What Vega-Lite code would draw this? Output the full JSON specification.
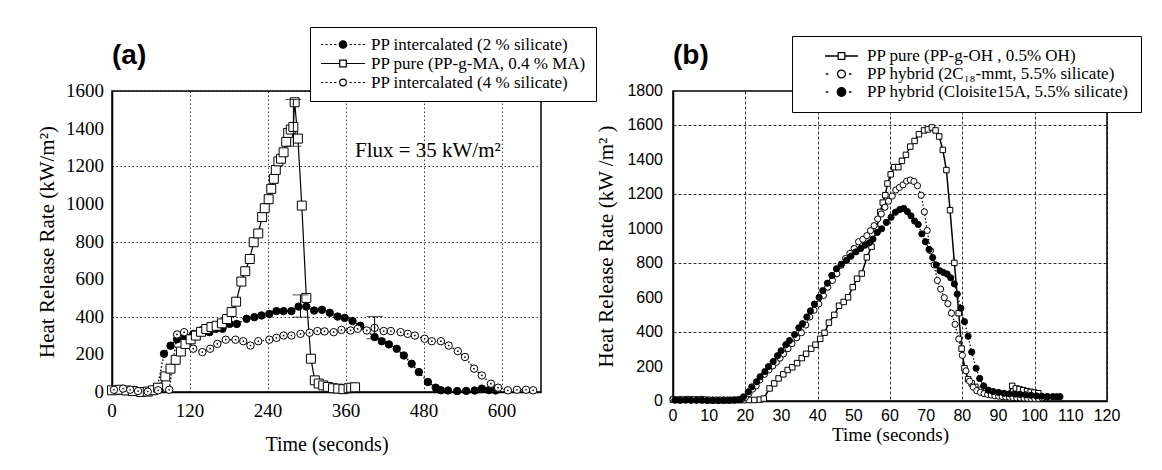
{
  "$schema": "https://vega.github.io/schema/vega-lite/v6.json",
  "background": "white",
  "padding": {"left": 35, "top": 25, "right": 5, "bottom": 5},
  "spacing": 132,
  "bounds": "flush",
  "config": {
    "font": "Liberation Serif",
    "view": {"stroke": "black", "strokeWidth": 1.5},
    "axis": {
      "domainColor": "black", "domainWidth": 1.5,
      "ticks": false, "labels": false,
      "gridColor": "black", "gridWidth": 0.8, "gridOpacity": 1,
      "titleColor": "black", "titleFont": "Liberation Serif", "titleFontWeight": "normal"
    },
    "legend": {
      "orient": "none", "title": null, "direction": "vertical",
      "labelFont": "Liberation Serif", "labelFontSize": 17, "labelColor": "black", "labelLimit": 500,
      "strokeColor": "black", "fillColor": "white", "rowPadding": 1
    },
    "title": {"font": "Liberation Sans", "fontWeight": "bold", "fontSize": 28, "anchor": "start", "frame": "group", "color": "black"}
  },
  "datasets": {
    "a": [
      {"s":"A1","t":0,"v":8},{"s":"A1","t":10,"v":6},{"s":"A1","t":20,"v":5},{"s":"A1","t":30,"v":4},{"s":"A1","t":40,"v":3},{"s":"A1","t":50,"v":3},{"s":"A1","t":60,"v":5},{"s":"A1","t":70,"v":26},{"s":"A1","t":80,"v":203},{"s":"A1","t":90,"v":246},{"s":"A1","t":100,"v":280},{"s":"A1","t":112,"v":295},{"s":"A1","t":125,"v":309},{"s":"A1","t":137,"v":327},{"s":"A1","t":150,"v":318},{"s":"A1","t":160,"v":336},{"s":"A1","t":170,"v":336},{"s":"A1","t":181,"v":362},{"s":"A1","t":192,"v":362},{"s":"A1","t":207,"v":389},{"s":"A1","t":219,"v":398},{"s":"A1","t":230,"v":407},{"s":"A1","t":242,"v":415},{"s":"A1","t":253,"v":430},{"s":"A1","t":264,"v":430},{"s":"A1","t":276,"v":430},{"s":"A1","t":287,"v":454},{"s":"A1","t":299,"v":454},{"s":"A1","t":311,"v":433},{"s":"A1","t":323,"v":437},{"s":"A1","t":335,"v":421},{"s":"A1","t":347,"v":401},{"s":"A1","t":358,"v":394},{"s":"A1","t":370,"v":377},{"s":"A1","t":382,"v":352},{"s":"A1","t":404,"v":292},{"s":"A1","t":415,"v":270},{"s":"A1","t":426,"v":253},{"s":"A1","t":438,"v":230},{"s":"A1","t":449,"v":194},{"s":"A1","t":461,"v":150},{"s":"A1","t":472,"v":106},{"s":"A1","t":486,"v":53},{"s":"A1","t":498,"v":23},{"s":"A1","t":506,"v":9},{"s":"A1","t":517,"v":8},{"s":"A1","t":531,"v":5},{"s":"A1","t":545,"v":6},{"s":"A1","t":558,"v":8},{"s":"A1","t":569,"v":18},{"s":"A1","t":580,"v":10},{"s":"A1","t":590,"v":8},
      {"s":"A2","t":0,"v":9},{"s":"A2","t":12,"v":12},{"s":"A2","t":22,"v":8},{"s":"A2","t":32,"v":5},{"s":"A2","t":45,"v":0},{"s":"A2","t":55,"v":2},{"s":"A2","t":63,"v":9},{"s":"A2","t":71,"v":23},{"s":"A2","t":82,"v":83},{"s":"A2","t":90,"v":124},{"s":"A2","t":98,"v":171},{"s":"A2","t":106,"v":215},{"s":"A2","t":113,"v":255},{"s":"A2","t":121,"v":280},{"s":"A2","t":129,"v":300},{"s":"A2","t":137,"v":320},{"s":"A2","t":145,"v":335},{"s":"A2","t":153,"v":345},{"s":"A2","t":161,"v":352},{"s":"A2","t":169,"v":365},{"s":"A2","t":177,"v":388},{"s":"A2","t":184,"v":425},{"s":"A2","t":191,"v":480},{"s":"A2","t":199,"v":587},{"s":"A2","t":205,"v":642},{"s":"A2","t":212,"v":707},{"s":"A2","t":218,"v":796},{"s":"A2","t":225,"v":843},{"s":"A2","t":231,"v":930},{"s":"A2","t":235,"v":977},{"s":"A2","t":241,"v":1025},{"s":"A2","t":245,"v":1080},{"s":"A2","t":249,"v":1133},{"s":"A2","t":252,"v":1180},{"s":"A2","t":256,"v":1226},{"s":"A2","t":260,"v":1240},{"s":"A2","t":264,"v":1274},{"s":"A2","t":268,"v":1330},{"s":"A2","t":271,"v":1377},{"s":"A2","t":275,"v":1395},{"s":"A2","t":279,"v":1409},{"s":"A2","t":281,"v":1540},{"s":"A2","t":286,"v":1347},{"s":"A2","t":292,"v":991},{"s":"A2","t":299,"v":500},{"s":"A2","t":306,"v":177},{"s":"A2","t":312,"v":62},{"s":"A2","t":318,"v":45},{"s":"A2","t":325,"v":35},{"s":"A2","t":332,"v":27},{"s":"A2","t":340,"v":20},{"s":"A2","t":348,"v":18},{"s":"A2","t":356,"v":15},{"s":"A2","t":364,"v":20},{"s":"A2","t":368,"v":23},{"s":"A2","t":374,"v":25},
      {"s":"A3","t":3,"v":12},{"s":"A3","t":17,"v":18},{"s":"A3","t":28,"v":12},{"s":"A3","t":40,"v":5},{"s":"A3","t":55,"v":2},{"s":"A3","t":71,"v":9},{"s":"A3","t":88,"v":12},{"s":"A3","t":100,"v":306},{"s":"A3","t":111,"v":318},{"s":"A3","t":125,"v":230},{"s":"A3","t":139,"v":212},{"s":"A3","t":151,"v":230},{"s":"A3","t":162,"v":256},{"s":"A3","t":175,"v":278},{"s":"A3","t":190,"v":278},{"s":"A3","t":202,"v":270},{"s":"A3","t":213,"v":247},{"s":"A3","t":225,"v":270},{"s":"A3","t":242,"v":278},{"s":"A3","t":253,"v":288},{"s":"A3","t":264,"v":300},{"s":"A3","t":276,"v":300},{"s":"A3","t":290,"v":309},{"s":"A3","t":304,"v":315},{"s":"A3","t":316,"v":324},{"s":"A3","t":327,"v":322},{"s":"A3","t":341,"v":318},{"s":"A3","t":353,"v":330},{"s":"A3","t":367,"v":327},{"s":"A3","t":378,"v":336},{"s":"A3","t":392,"v":327},{"s":"A3","t":404,"v":341},{"s":"A3","t":418,"v":324},{"s":"A3","t":429,"v":324},{"s":"A3","t":444,"v":318},{"s":"A3","t":455,"v":309},{"s":"A3","t":466,"v":300},{"s":"A3","t":481,"v":283},{"s":"A3","t":492,"v":270},{"s":"A3","t":506,"v":270},{"s":"A3","t":518,"v":247},{"s":"A3","t":532,"v":217},{"s":"A3","t":543,"v":186},{"s":"A3","t":557,"v":124},{"s":"A3","t":569,"v":88},{"s":"A3","t":583,"v":44},{"s":"A3","t":594,"v":23},{"s":"A3","t":609,"v":9},{"s":"A3","t":623,"v":12},{"s":"A3","t":637,"v":12},{"s":"A3","t":648,"v":9}
    ],
    "ae": [
      {"t":279,"lo":1306,"hi":1555},
      {"t":290,"lo":398,"hi":516},
      {"t":404,"lo":283,"hi":401}
    ],
    "note": [{"t":486,"v":1280,"label":"Flux = 35 kW/m²"}],
    "ayl": [{"v":0},{"v":200},{"v":400},{"v":600},{"v":800},{"v":1000},{"v":1200},{"v":1400},{"v":1600}],
    "axl": [{"t":0},{"t":120},{"t":240},{"t":360},{"t":480},{"t":600}],
    "byl": [{"v":0},{"v":200},{"v":400},{"v":600},{"v":800},{"v":1000},{"v":1200},{"v":1400},{"v":1600},{"v":1800}],
    "bxl": [{"t":0},{"t":10},{"t":20},{"t":30},{"t":40},{"t":50},{"t":60},{"t":70},{"t":80},{"t":90},{"t":100},{"t":110},{"t":120}],
    "b": [
      {"s":"B1","t":0,"v":8},{"s":"B1","t":1.5,"v":6},{"s":"B1","t":3,"v":7},{"s":"B1","t":4.5,"v":8},{"s":"B1","t":6,"v":7},{"s":"B1","t":7.5,"v":9},{"s":"B1","t":9,"v":6},{"s":"B1","t":10.5,"v":5},{"s":"B1","t":12,"v":5},{"s":"B1","t":13.5,"v":5},{"s":"B1","t":15,"v":5},{"s":"B1","t":16.5,"v":5},{"s":"B1","t":18,"v":5},{"s":"B1","t":19.5,"v":5},{"s":"B1","t":21,"v":6},{"s":"B1","t":22.5,"v":6},{"s":"B1","t":24,"v":8},
      {"s":"B1","t":25.1,"v":14},{"s":"B1","t":26.7,"v":73},{"s":"B1","t":28,"v":102},{"s":"B1","t":29.2,"v":131},{"s":"B1","t":30.5,"v":155},{"s":"B1","t":31.7,"v":180},{"s":"B1","t":33,"v":196},{"s":"B1","t":34.3,"v":220},{"s":"B1","t":35.6,"v":249},{"s":"B1","t":36.8,"v":274},{"s":"B1","t":38.2,"v":304},{"s":"B1","t":39.4,"v":327},{"s":"B1","t":40.7,"v":361},{"s":"B1","t":41.9,"v":396},{"s":"B1","t":43.1,"v":455},{"s":"B1","t":44.6,"v":500},{"s":"B1","t":45.9,"v":553},{"s":"B1","t":47.2,"v":575},{"s":"B1","t":48.4,"v":602},{"s":"B1","t":49.7,"v":661},{"s":"B1","t":50.9,"v":710},{"s":"B1","t":52.2,"v":740},{"s":"B1","t":53.6,"v":834},{"s":"B1","t":54.9,"v":896},{"s":"B1","t":56.3,"v":1000},{"s":"B1","t":57.3,"v":1098},{"s":"B1","t":58,"v":1152},{"s":"B1","t":58.7,"v":1195},{"s":"B1","t":59.3,"v":1263},{"s":"B1","t":60.2,"v":1316},{"s":"B1","t":61.2,"v":1358},{"s":"B1","t":62.3,"v":1358},{"s":"B1","t":63.3,"v":1394},{"s":"B1","t":64.4,"v":1429},{"s":"B1","t":65.6,"v":1477},{"s":"B1","t":66.8,"v":1510},{"s":"B1","t":68,"v":1549},{"s":"B1","t":69.4,"v":1571},{"s":"B1","t":70.5,"v":1577},{"s":"B1","t":71.6,"v":1588},{"s":"B1","t":72.6,"v":1571},{"s":"B1","t":73.6,"v":1536},{"s":"B1","t":74.6,"v":1458},{"s":"B1","t":75.6,"v":1341},{"s":"B1","t":76.6,"v":1108},{"s":"B1","t":77.8,"v":802},{"s":"B1","t":79,"v":510},{"s":"B1","t":79.8,"v":304},{"s":"B1","t":80.6,"v":190},{"s":"B1","t":81.6,"v":127},{"s":"B1","t":82.6,"v":102},{"s":"B1","t":83.6,"v":82},{"s":"B1","t":85,"v":65},{"s":"B1","t":86.5,"v":55},{"s":"B1","t":88,"v":45},{"s":"B1","t":89.5,"v":40},{"s":"B1","t":91,"v":35},{"s":"B1","t":92.5,"v":33},{"s":"B1","t":93.8,"v":88},{"s":"B1","t":94.8,"v":73},{"s":"B1","t":95.8,"v":69},{"s":"B1","t":96.8,"v":63},{"s":"B1","t":97.9,"v":57},{"s":"B1","t":98.9,"v":53},{"s":"B1","t":99.9,"v":49},{"s":"B1","t":101,"v":45},
      {"s":"B2","t":0,"v":9},{"s":"B2","t":1,"v":8},{"s":"B2","t":2,"v":9},{"s":"B2","t":3,"v":8},{"s":"B2","t":4,"v":10},{"s":"B2","t":5,"v":8},{"s":"B2","t":6,"v":9},{"s":"B2","t":7,"v":8},{"s":"B2","t":8,"v":10},{"s":"B2","t":9,"v":7},{"s":"B2","t":10,"v":6},{"s":"B2","t":11,"v":6},{"s":"B2","t":12,"v":6},{"s":"B2","t":13,"v":6},{"s":"B2","t":14,"v":6},{"s":"B2","t":15,"v":6},{"s":"B2","t":16,"v":6},{"s":"B2","t":17,"v":7},{"s":"B2","t":18,"v":8},{"s":"B2","t":19,"v":10},
      {"s":"B2","t":20,"v":20},{"s":"B2","t":21,"v":43},{"s":"B2","t":22,"v":69},{"s":"B2","t":23,"v":88},{"s":"B2","t":24,"v":122},{"s":"B2","t":25.3,"v":155},{"s":"B2","t":26.5,"v":180},{"s":"B2","t":27.6,"v":204},{"s":"B2","t":28.6,"v":225},{"s":"B2","t":29.6,"v":249},{"s":"B2","t":30.6,"v":274},{"s":"B2","t":31.8,"v":304},{"s":"B2","t":32.9,"v":333},{"s":"B2","t":34.2,"v":367},{"s":"B2","t":35.5,"v":396},{"s":"B2","t":36.7,"v":441},{"s":"B2","t":37.8,"v":488},{"s":"B2","t":39,"v":527},{"s":"B2","t":40.3,"v":563},{"s":"B2","t":41.6,"v":612},{"s":"B2","t":42.8,"v":661},{"s":"B2","t":44.1,"v":700},{"s":"B2","t":45.3,"v":739},{"s":"B2","t":46.5,"v":788},{"s":"B2","t":47.7,"v":827},{"s":"B2","t":48.9,"v":857},{"s":"B2","t":50.1,"v":886},{"s":"B2","t":51.3,"v":925},{"s":"B2","t":52.5,"v":939},{"s":"B2","t":53.6,"v":960},{"s":"B2","t":54.6,"v":989},{"s":"B2","t":55.6,"v":1018},{"s":"B2","t":56.6,"v":1057},{"s":"B2","t":57.6,"v":1086},{"s":"B2","t":58.6,"v":1125},{"s":"B2","t":59.6,"v":1160},{"s":"B2","t":60.6,"v":1190},{"s":"B2","t":61.6,"v":1225},{"s":"B2","t":62.6,"v":1240},{"s":"B2","t":63.6,"v":1255},{"s":"B2","t":64.6,"v":1277},{"s":"B2","t":65.6,"v":1283},{"s":"B2","t":66.6,"v":1275},{"s":"B2","t":67.6,"v":1250},{"s":"B2","t":68.6,"v":1195},{"s":"B2","t":69.5,"v":1098},{"s":"B2","t":70.3,"v":990},{"s":"B2","t":71.2,"v":873},{"s":"B2","t":72.2,"v":790},{"s":"B2","t":73.1,"v":700},{"s":"B2","t":74,"v":650},{"s":"B2","t":75,"v":600},{"s":"B2","t":76,"v":565},{"s":"B2","t":77,"v":510},{"s":"B2","t":78,"v":445},{"s":"B2","t":79,"v":360},{"s":"B2","t":80,"v":265},{"s":"B2","t":81,"v":175},{"s":"B2","t":82,"v":115},{"s":"B2","t":83,"v":80},{"s":"B2","t":84,"v":60},{"s":"B2","t":85,"v":50},{"s":"B2","t":86,"v":43},{"s":"B2","t":87,"v":38},{"s":"B2","t":88,"v":34},{"s":"B2","t":89,"v":30},{"s":"B2","t":90,"v":28},{"s":"B2","t":91,"v":26},{"s":"B2","t":92,"v":24},{"s":"B2","t":93,"v":22},{"s":"B2","t":94,"v":20},{"s":"B2","t":95,"v":19},{"s":"B2","t":96,"v":18},{"s":"B2","t":97,"v":17},{"s":"B2","t":98,"v":16},{"s":"B2","t":99,"v":15},{"s":"B2","t":100,"v":15},{"s":"B2","t":101,"v":15},{"s":"B2","t":102,"v":18},{"s":"B2","t":103.5,"v":24},
      {"s":"B3","t":0.5,"v":5},{"s":"B3","t":2,"v":4},{"s":"B3","t":3.5,"v":5},{"s":"B3","t":5,"v":4},{"s":"B3","t":6.5,"v":4},{"s":"B3","t":8,"v":4},{"s":"B3","t":9.5,"v":3},{"s":"B3","t":11,"v":3},{"s":"B3","t":12.5,"v":3},{"s":"B3","t":14,"v":3},{"s":"B3","t":15.5,"v":4},{"s":"B3","t":17,"v":5},{"s":"B3","t":18.5,"v":8},
      {"s":"B3","t":19.5,"v":24},{"s":"B3","t":20.8,"v":53},{"s":"B3","t":21.8,"v":82},{"s":"B3","t":23.1,"v":112},{"s":"B3","t":24.1,"v":141},{"s":"B3","t":25.4,"v":171},{"s":"B3","t":26.4,"v":200},{"s":"B3","t":27.7,"v":229},{"s":"B3","t":28.9,"v":263},{"s":"B3","t":29.9,"v":292},{"s":"B3","t":31.2,"v":327},{"s":"B3","t":32.2,"v":351},{"s":"B3","t":33.6,"v":386},{"s":"B3","t":34.8,"v":425},{"s":"B3","t":35.8,"v":449},{"s":"B3","t":37,"v":488},{"s":"B3","t":38,"v":523},{"s":"B3","t":39.1,"v":563},{"s":"B3","t":40.4,"v":602},{"s":"B3","t":41.4,"v":641},{"s":"B3","t":42.7,"v":684},{"s":"B3","t":43.9,"v":729},{"s":"B3","t":45.2,"v":768},{"s":"B3","t":46.5,"v":794},{"s":"B3","t":48,"v":817},{"s":"B3","t":49.2,"v":841},{"s":"B3","t":50.6,"v":866},{"s":"B3","t":51.9,"v":886},{"s":"B3","t":53.1,"v":905},{"s":"B3","t":54.3,"v":919},{"s":"B3","t":55.3,"v":940},{"s":"B3","t":56.5,"v":979},{"s":"B3","t":57.7,"v":1000},{"s":"B3","t":59,"v":1037},{"s":"B3","t":60.3,"v":1067},{"s":"B3","t":61.5,"v":1096},{"s":"B3","t":62.7,"v":1112},{"s":"B3","t":63.8,"v":1118},{"s":"B3","t":64.8,"v":1100},{"s":"B3","t":65.8,"v":1075},{"s":"B3","t":66.8,"v":1045},{"s":"B3","t":67.8,"v":1025},{"s":"B3","t":68.8,"v":970},{"s":"B3","t":69.8,"v":925},{"s":"B3","t":70.8,"v":880},{"s":"B3","t":71.8,"v":833},{"s":"B3","t":72.8,"v":790},{"s":"B3","t":73.8,"v":756},{"s":"B3","t":74.8,"v":746},{"s":"B3","t":75.8,"v":737},{"s":"B3","t":76.8,"v":715},{"s":"B3","t":77.8,"v":680},{"s":"B3","t":78.6,"v":621},{"s":"B3","t":79.6,"v":539},{"s":"B3","t":80.6,"v":461},{"s":"B3","t":81.6,"v":376},{"s":"B3","t":82.6,"v":284},{"s":"B3","t":83.8,"v":190},{"s":"B3","t":84.8,"v":131},{"s":"B3","t":85.9,"v":88},{"s":"B3","t":87.2,"v":63},{"s":"B3","t":88.5,"v":55},{"s":"B3","t":90,"v":50},{"s":"B3","t":91.5,"v":45},{"s":"B3","t":93,"v":42},{"s":"B3","t":94.5,"v":40},{"s":"B3","t":96,"v":38},{"s":"B3","t":97.5,"v":36},{"s":"B3","t":99,"v":33},{"s":"B3","t":100.5,"v":30},{"s":"B3","t":102,"v":28},{"s":"B3","t":103.5,"v":26},{"s":"B3","t":105,"v":25},{"s":"B3","t":106,"v":25},{"s":"B3","t":107,"v":25}
    ]
  },
  "resolve": {
    "scale": {"x": "independent", "y": "independent", "shape": "independent", "fill": "independent", "stroke": "independent"},
    "legend": {"shape": "independent", "fill": "independent", "stroke": "independent"}
  },
  "hconcat": [
    {
      "width": 429, "height": 301,
      "title": {"text": "(a)", "offset": -43},
      "layer": [
        {
          "data": {"name": "a"},
          "mark": {"type": "line", "color": "black"},
          "encoding": {
            "x": {"field": "t", "type": "quantitative", "scale": {"domain": [0, 660], "nice": false, "zero": false},
              "axis": {"values": [0,60,120,180,240,300,360,420,480,540,600,660], "title": "Time (seconds)", "gridDash": [1.5, 2.5], "titleFontSize": 20, "titlePadding": 42}},
            "y": {"field": "v", "type": "quantitative", "scale": {"domain": [0, 1600], "nice": false},
              "axis": {"values": [0,200,400,600,800,1000,1200,1400,1600], "title": "Heat Release Rate (kW/m²)", "gridDash": [1.5, 2.5], "titleFontSize": 21, "titlePadding": 55}},
            "detail": {"field": "s"},
            "strokeDash": {"condition": {"test": "datum.s === 'A2'", "value": [1, 0]}, "value": [1.5, 2]},
            "strokeWidth": {"condition": {"test": "datum.s === 'A2'", "value": 1.2}, "value": 1.4}
          }
        },
        {
          "data": {"name": "ayl"},
          "mark": {"type": "text", "font": "Liberation Serif", "fontSize": 19, "color": "black", "align": "right", "baseline": "middle", "dx": -8},
          "encoding": {
            "x": {"datum": 0, "type": "quantitative"},
            "y": {"field": "v", "type": "quantitative"},
            "text": {"field": "v", "type": "quantitative", "format": "d"}
          }
        },
        {
          "data": {"name": "axl"},
          "mark": {"type": "text", "font": "Liberation Serif", "fontSize": 19, "color": "black", "align": "center", "baseline": "top", "dy": 10},
          "encoding": {
            "x": {"field": "t", "type": "quantitative"},
            "y": {"datum": 0, "type": "quantitative"},
            "text": {"field": "t", "type": "quantitative", "format": "d"}
          }
        },
        {
          "data": {"name": "a"},
          "mark": {"type": "point", "filled": true, "stroke": "black", "strokeWidth": 1, "opacity": 1},
          "encoding": {
            "x": {"field": "t", "type": "quantitative"},
            "y": {"field": "v", "type": "quantitative"},
            "shape": {"condition": {"test": "datum.s === 'A2'", "value": "square"}, "value": "circle"},
            "fill": {"condition": {"test": "datum.s === 'A1'", "value": "black"}, "value": "white"},
            "size": {"condition": {"test": "datum.s === 'A2'", "value": 80}, "value": 55}
          }
        },
        {
          "data": {"name": "a"},
          "transform": [{"filter": {"field": "s", "equal": "A3"}}],
          "mark": {"type": "point", "filled": true, "color": "black", "size": 3, "opacity": 1},
          "encoding": {
            "x": {"field": "t", "type": "quantitative"},
            "y": {"field": "v", "type": "quantitative"}
          }
        },
        {
          "data": {"name": "a"},
          "transform": [{"filter": "false"}],
          "mark": {"type": "point", "filled": true, "strokeWidth": 1.2, "opacity": 1},
          "encoding": {
            "x": {"field": "t", "type": "quantitative"},
            "y": {"field": "v", "type": "quantitative"},
            "shape": {"field": "s", "type": "nominal",
              "scale": {"domain": ["A1","A2","A3"], "range": [
                "M-1,0H-0.9M-0.8,0H-0.7M-0.6,0H-0.5M-0.4,0H-0.3M0.3,0H0.4M0.5,0H0.6M0.7,0H0.8M0.9,0H1M0.17,0A0.17,0.17 0 1 1 -0.17,0A0.17,0.17 0 1 1 0.17,0Z",
                "M-1,0H-0.16M0.16,0H1M-0.15,-0.15H0.15V0.15H-0.15Z",
                "M-1,0H-0.9M-0.8,0H-0.7M-0.6,0H-0.5M-0.4,0H-0.3M0.3,0H0.4M0.5,0H0.6M0.7,0H0.8M0.9,0H1M0.15,0A0.15,0.15 0 1 1 -0.15,0A0.15,0.15 0 1 1 0.15,0Z"]},
              "legend": {
                "legendX": 198, "legendY": -64,
                "labelExpr": "datum.value === 'A1' ? 'PP intercalated (2 % silicate)' : datum.value === 'A2' ? 'PP pure (PP-g-MA, 0.4 % MA)' : 'PP intercalated (4 % silicate)'",
                "labelOffset": 5, "padding": 10, "symbolSize": 1936, "clipHeight": 15, "symbolStrokeWidth": 1.2
              }},
            "fill": {"field": "s", "type": "nominal",
              "scale": {"domain": ["A1","A2","A3"], "range": ["black","white","white"]},
              "legend": {
                "legendX": 198, "legendY": -64,
                "labelExpr": "datum.value === 'A1' ? 'PP intercalated (2 % silicate)' : datum.value === 'A2' ? 'PP pure (PP-g-MA, 0.4 % MA)' : 'PP intercalated (4 % silicate)'",
                "labelOffset": 5, "padding": 10, "symbolSize": 1936, "clipHeight": 15, "symbolStrokeWidth": 1.2
              }},
            "stroke": {"field": "s", "type": "nominal",
              "scale": {"domain": ["A1","A2","A3"], "range": ["black","black","black"]},
              "legend": {
                "legendX": 198, "legendY": -64,
                "labelExpr": "datum.value === 'A1' ? 'PP intercalated (2 % silicate)' : datum.value === 'A2' ? 'PP pure (PP-g-MA, 0.4 % MA)' : 'PP intercalated (4 % silicate)'",
                "labelOffset": 5, "padding": 10, "symbolSize": 1936, "clipHeight": 15, "symbolStrokeWidth": 1.2
              }}
          }
        },
        {
          "data": {"name": "ae"},
          "mark": {"type": "rule", "color": "black", "strokeWidth": 1},
          "encoding": {
            "x": {"field": "t", "type": "quantitative"},
            "y": {"field": "lo", "type": "quantitative"},
            "y2": {"field": "hi"}
          }
        },
        {
          "data": {"name": "ae"},
          "mark": {"type": "tick", "orient": "horizontal", "color": "black", "size": 16, "thickness": 1},
          "encoding": {
            "x": {"field": "t", "type": "quantitative"},
            "y": {"field": "lo", "type": "quantitative"}
          }
        },
        {
          "data": {"name": "ae"},
          "mark": {"type": "tick", "orient": "horizontal", "color": "black", "size": 16, "thickness": 1},
          "encoding": {
            "x": {"field": "t", "type": "quantitative"},
            "y": {"field": "hi", "type": "quantitative"}
          }
        },
        {
          "data": {"name": "note"},
          "mark": {"type": "text", "font": "Liberation Serif", "fontSize": 21, "color": "black", "align": "center", "baseline": "middle"},
          "encoding": {
            "x": {"field": "t", "type": "quantitative"},
            "y": {"field": "v", "type": "quantitative"},
            "text": {"field": "label"}
          }
        }
      ]
    },
    {
      "width": 434, "height": 310,
      "title": {"text": "(b)", "offset": -34},
      "layer": [
        {
          "data": {"name": "b"},
          "mark": {"type": "line", "color": "black"},
          "encoding": {
            "x": {"field": "t", "type": "quantitative", "scale": {"domain": [0, 120], "nice": false, "zero": false},
              "axis": {"values": [0,10,20,30,40,50,60,70,80,90,100,110,120], "title": "Time  (seconds)", "gridDash": [3, 2], "titleFontSize": 19, "titlePadding": 24}},
            "y": {"field": "v", "type": "quantitative", "scale": {"domain": [0, 1800], "nice": false},
              "axis": {"values": [0,200,400,600,800,1000,1200,1400,1600,1800], "title": "Heat Release Rate (kW /m² )", "gridDash": [3, 2], "titleFontSize": 21, "titlePadding": 57}},
            "detail": {"field": "s"},
            "strokeDash": {"condition": {"test": "datum.s === 'B1'", "value": [1, 0]}, "value": [1.5, 2]},
            "strokeWidth": {"condition": {"test": "datum.s === 'B1'", "value": 1.5}, "value": 1.2}
          }
        },
        {
          "data": {"name": "byl"},
          "mark": {"type": "text", "font": "Liberation Sans", "fontSize": 16, "color": "black", "align": "right", "baseline": "middle", "dx": -10},
          "encoding": {
            "x": {"datum": 0, "type": "quantitative"},
            "y": {"field": "v", "type": "quantitative"},
            "text": {"field": "v", "type": "quantitative", "format": "d"}
          }
        },
        {
          "data": {"name": "bxl"},
          "mark": {"type": "text", "font": "Liberation Sans", "fontSize": 16, "color": "black", "align": "center", "baseline": "top", "dy": 7},
          "encoding": {
            "x": {"field": "t", "type": "quantitative"},
            "y": {"datum": 0, "type": "quantitative"},
            "text": {"field": "t", "type": "quantitative", "format": "d"}
          }
        },
        {
          "data": {"name": "b"},
          "mark": {"type": "point", "filled": true, "stroke": "black", "strokeWidth": 1, "opacity": 1},
          "encoding": {
            "x": {"field": "t", "type": "quantitative"},
            "y": {"field": "v", "type": "quantitative"},
            "shape": {"condition": {"test": "datum.s === 'B1'", "value": "square"}, "value": "circle"},
            "fill": {"condition": {"test": "datum.s === 'B3'", "value": "black"}, "value": "white"},
            "size": {"condition": {"test": "datum.s === 'B1'", "value": 30}, "value": 38}
          }
        },
        {
          "data": {"name": "b"},
          "transform": [{"filter": "false"}],
          "mark": {"type": "point", "filled": true, "strokeWidth": 1.3, "opacity": 1},
          "encoding": {
            "x": {"field": "t", "type": "quantitative"},
            "y": {"field": "v", "type": "quantitative"},
            "shape": {"field": "s", "type": "nominal",
              "scale": {"domain": ["B1","B2","B3"], "range": [
                "M-1,0H-0.2M0.2,0H1M-0.2,-0.2H0.2V0.2H-0.2Z",
                "M-0.95,0H-0.8M0.45,0H0.6M0.24,0A0.24,0.24 0 1 1 -0.24,0A0.24,0.24 0 1 1 0.24,0Z",
                "M-0.95,0H-0.8M0.45,0H0.6M0.26,0A0.26,0.26 0 1 1 -0.26,0A0.26,0.26 0 1 1 0.26,0Z"]},
              "legend": {
                "legendX": 119, "legendY": -55,
                "labelExpr": "datum.value === 'B1' ? 'PP pure (PP-g-OH , 0.5% OH)' : datum.value === 'B2' ? 'PP hybrid (2C₁₈-mmt, 5.5% silicate)' : 'PP hybrid (Cloisite15A, 5.5% silicate)'",
                "labelOffset": 8, "padding": 12, "symbolOffset": 20, "symbolSize": 1089, "clipHeight": 16, "symbolStrokeWidth": 1.3
              }},
            "fill": {"field": "s", "type": "nominal",
              "scale": {"domain": ["B1","B2","B3"], "range": ["white","white","black"]},
              "legend": {
                "legendX": 119, "legendY": -55,
                "labelExpr": "datum.value === 'B1' ? 'PP pure (PP-g-OH , 0.5% OH)' : datum.value === 'B2' ? 'PP hybrid (2C₁₈-mmt, 5.5% silicate)' : 'PP hybrid (Cloisite15A, 5.5% silicate)'",
                "labelOffset": 8, "padding": 12, "symbolOffset": 20, "symbolSize": 1089, "clipHeight": 16, "symbolStrokeWidth": 1.3
              }},
            "stroke": {"field": "s", "type": "nominal",
              "scale": {"domain": ["B1","B2","B3"], "range": ["black","black","black"]},
              "legend": {
                "legendX": 119, "legendY": -55,
                "labelExpr": "datum.value === 'B1' ? 'PP pure (PP-g-OH , 0.5% OH)' : datum.value === 'B2' ? 'PP hybrid (2C₁₈-mmt, 5.5% silicate)' : 'PP hybrid (Cloisite15A, 5.5% silicate)'",
                "labelOffset": 8, "padding": 12, "symbolOffset": 20, "symbolSize": 1089, "clipHeight": 16, "symbolStrokeWidth": 1.3
              }}
          }
        }
      ]
    }
  ]
}
